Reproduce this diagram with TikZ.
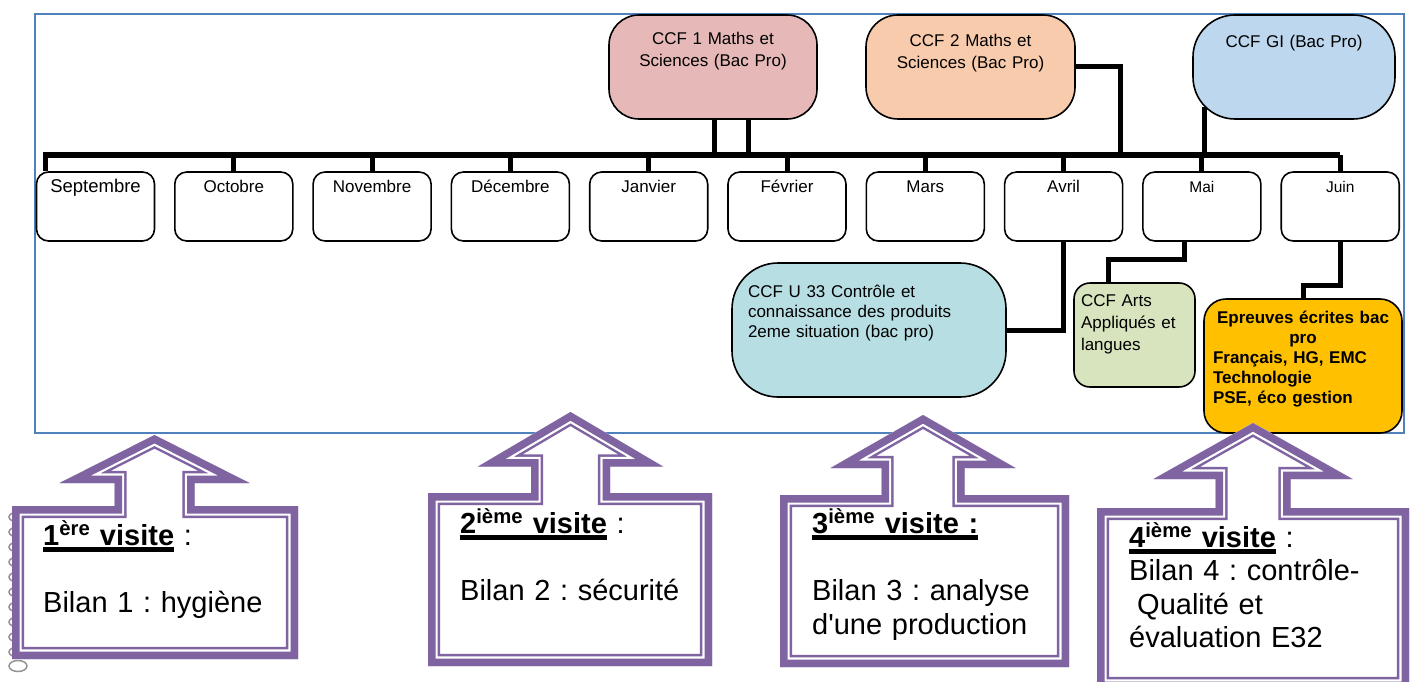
\documentclass[tikz,border=0pt]{standalone}
\usepackage{fontspec}
\setmainfont{Liberation Sans}
\frenchspacing

\definecolor{ccfpink}{HTML}{E6B9B8}
\definecolor{ccfpeach}{HTML}{F8CBAD}
\definecolor{ccfblue}{HTML}{BDD7EE}
\definecolor{ccfteal}{HTML}{B7DEE3}
\definecolor{ccfgreen}{HTML}{D7E4BD}
\definecolor{ccforange}{HTML}{FFC000}
\definecolor{visitpurple}{HTML}{8064A2}
\definecolor{framebl}{HTML}{4F81BD}

\newsavebox\visitbox
\newcommand\visitul[1]{\sbox\visitbox{#1}\rlap{\rule[-6.5pt]{\wd\visitbox}{4.3pt}}\usebox\visitbox}
% L R T B cx stem head base tip
\newcommand\visitshape[9]{(#1,-#4) -- (#1,-#3) -- ({#5-#6},-#3) -- ({#5-#6},-#8) -- ({#5-#7},-#8) -- (#5,-#9) -- ({#5+#7},-#8) -- ({#5+#6},-#8) -- ({#5+#6},-#3) -- (#2,-#3) -- (#2,-#4) -- cycle}
\newcommand\visitarrow[9]{\def\vpath{\visitshape{#1}{#2}{#3}{#4}{#5}{#6}{#7}{#8}{#9}}%
  \begin{scope}
    \clip \vpath;
    \fill[white] \vpath;
    \draw[visitpurple, line width=24.4pt] \vpath;
    \draw[white, line width=19.4pt] \vpath;
    \draw[visitpurple, line width=15pt] \vpath;
  \end{scope}}

\begin{document}
\begin{tikzpicture}[x=1pt, y=1pt,
    month/.style={draw, line width=1.6pt, fill=white, rounded corners=12pt,
      minimum width=118pt, minimum height=69pt, inner sep=0pt,
      text height=20pt, text depth=49pt},
    ccf/.style={draw, line width=1.6pt, inner xsep=4pt, inner ysep=0pt,
      font=\fontsize{17}{22}\selectfont},
    link/.style={line width=5pt},
    bus/.style={line width=6.5pt},
    visittxt/.style={anchor=base west, inner sep=0pt, text width=280pt,
      align=left, font=\fontsize{29}{33.5}\selectfont}]
  \useasboundingbox (0,0) rectangle (1410,-682);
  % cadre
  \draw[framebl, line width=1.5pt] (35,-14) rectangle (1404,-433);

  % mois
  \foreach \name/\fs [count=\i] in {Septembre/18.5, Octobre/17, Novembre/17,
      Décembre/17, Janvier/17, Février/17, Mars/17, Avril/17, Mai/15.5, Juin/15.5}
    \node[month, font=\fontsize{\fs}{20}\selectfont] (m\i) at ({95.5+138.3*(\i-1)},-206.5) {\name};

  % CCF
  \node[ccf, fill=ccfpink, rounded corners=30pt, minimum width=208pt, minimum height=104pt,
    text width=200pt, align=center, text height=30pt, text depth=74pt]
    (ccfA) at (713,-67) {CCF 1 Maths et\\Sciences (Bac Pro)};
  \node[ccf, fill=ccfpeach, rounded corners=32pt, minimum width=209pt, minimum height=104pt,
    text width=201pt, align=center, text height=32pt, text depth=72pt]
    (ccfB) at (970.5,-67) {CCF 2 Maths et\\Sciences (Bac Pro)};
  \node[ccf, fill=ccfblue, rounded corners=42pt, minimum width=202pt, minimum height=104pt,
    text width=194pt, align=center, text height=33pt, text depth=71pt]
    (ccfC) at (1294,-67) {CCF GI (Bac Pro)};
  \node[ccf, fill=ccfteal, rounded corners=46pt, minimum width=274pt, minimum height=134pt,
    inner xsep=16pt, text width=242pt, align=left, text height=34pt, text depth=100pt,
    font=\fontsize{17}{20}\selectfont]
    (ccfU) at (869,-330) {CCF U 33 Contrôle et\\connaissance des produits\\2eme situation (bac pro)};
  \node[ccf, fill=ccfgreen, rounded corners=16pt, minimum width=121pt, minimum height=104pt,
    inner xsep=7pt, text width=107pt, align=left, text height=23pt, text depth=81pt]
    (ccfD) at (1134.5,-335) {CCF Arts\\Appliqués et\\langues};
  \node[ccf, fill=ccforange, rounded corners=22pt, minimum width=198pt, minimum height=134pt,
    inner xsep=9pt, text width=180pt, text height=24pt, text depth=110pt,
    font=\bfseries\fontsize{17}{20}\selectfont]
    (ccfE) at (1303,-366) {{\centering Epreuves écrites bac\\pro\par}\raggedright
      Français, HG, EMC\\Technologie\\PSE, éco gestion};

  % liaisons
  \coordinate (busL) at (43,-155);
  \coordinate (busB) at (1120,-155);
  \draw[bus] (busL) -- (m10.north |- busL);
  \draw[link] ([xshift=9.5pt]m1.north west) -- ([xshift=9.5pt]m1.north west |- busL);
  \foreach \i in {2,...,10}
    \draw[link] (m\i.north) -- (m\i.north |- busL);
  \draw[link] ([xshift=1pt]ccfA.south) -- ([xshift=1pt]ccfA.south |- busL);
  \draw[link] ([xshift=35pt]ccfA.south) -- ([xshift=35pt]ccfA.south |- busL);
  \draw[link] (ccfB.east) -| (busB);
  \draw[link] ([xshift=12pt,yshift=13pt]ccfC.south west) -- ([xshift=12pt]ccfC.south west |- busL);
  \draw[link] (m8.south) |- (ccfU.east);
  \draw[link] ([xshift=-17pt]m9.south) -- ++(0,-18) -| ([xshift=-26.5pt]ccfD.north);
  \draw[link] (m10.south) -- ++(0,-44) -| (ccfE.north);

  % petits ovales gris
  \foreach \k in {0,...,9}
    \draw[gray!85, line width=1.5pt] (18,{-517-15*\k}) ellipse [x radius=9pt, y radius=5pt];
  \draw[gray!85, line width=1.5pt] (18,-666) ellipse [x radius=9pt, y radius=5.5pt];

  % visites
  \visitarrow{12}{298}{506}{659}{154.5}{40}{95}{483}{435}
  \visitarrow{428}{712}{493}{666}{570.5}{39.5}{92.5}{466.5}{412}
  \visitarrow{780}{1069}{495}{667}{923}{41.5}{92.5}{468}{415}
  \visitarrow{1097}{1409}{508}{689}{1253}{37.5}{99.5}{479}{423}

  \node[visittxt] (v1) at (43,-545)
    {\visitul{\textbf{1\textsuperscript{ère} visite}} :\\[34pt]Bilan 1 : hygiène};
  \node[visittxt] (v2) at (460,-533)
    {\visitul{\textbf{2\textsuperscript{ième} visite}} :\\[34pt]Bilan 2 : sécurité};
  \node[visittxt] (v3) at (812,-533)
    {\visitul{\textbf{3\textsuperscript{ième} visite :}}\\[34pt]Bilan 3 : analyse\\d\textquotesingle une production};
  \node[visittxt] (v4) at (1129,-547)
    {\visitul{\textbf{4\textsuperscript{ième} visite}} :\\Bilan 4 : contrôle-\\\hspace*{8pt}Qualité et\\évaluation E32};
\end{tikzpicture}
\end{document}
